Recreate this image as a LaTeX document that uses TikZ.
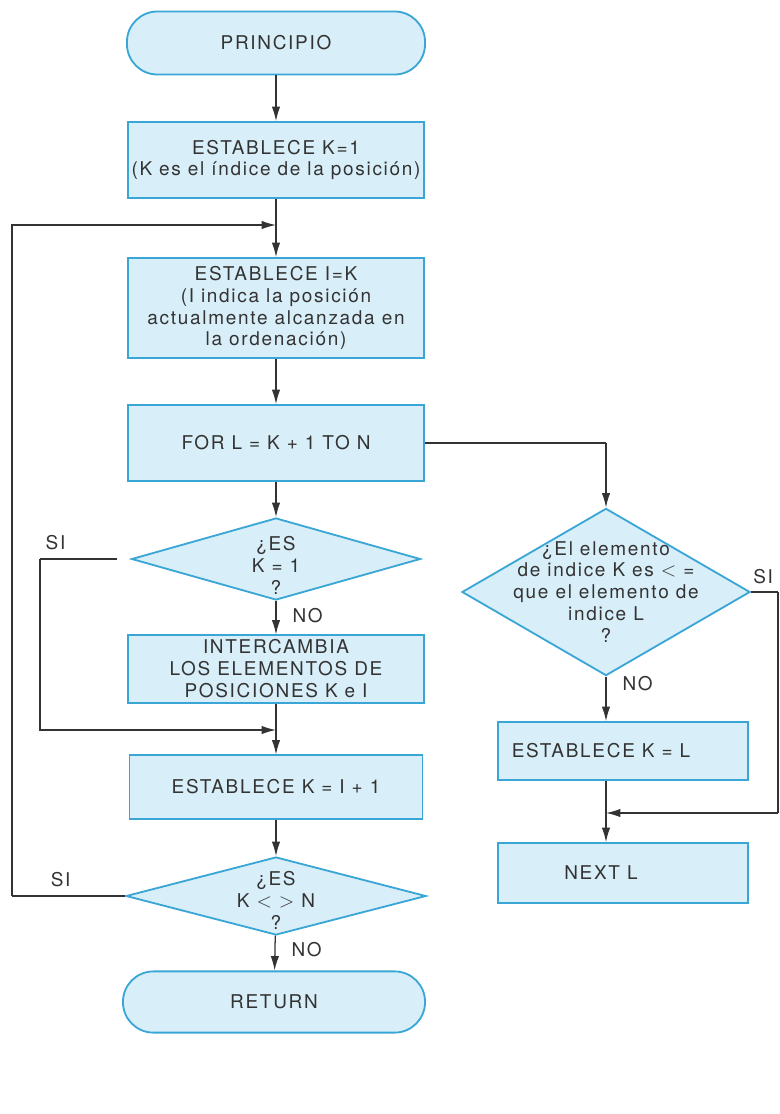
\documentclass[tikz,border=0pt]{standalone}
\usepackage{fontspec}
\setmainfont[LetterSpace=9]{TeX Gyre Heros}
\usetikzlibrary{shapes.geometric,arrows.meta}
\definecolor{boxblue}{HTML}{3AA6D6}
\definecolor{boxfill}{HTML}{D8EEF8}
\definecolor{ink}{HTML}{333333}
\begin{document}
\begin{tikzpicture}[x=0.025cm,y=-0.025cm,font=\fontsize{13.5}{15.6}\selectfont,text=ink]
\tikzstyle{proc}=[rectangle,draw=boxblue,fill=boxfill,line width=1.3pt,align=center,inner sep=0.5pt]
\tikzstyle{term}=[proc,rounded corners=7.6mm]
\tikzstyle{cond}=[diamond,draw=boxblue,fill=boxfill,line width=1.3pt,inner sep=0pt]
\tikzstyle{arr}=[draw=ink,line width=0.9pt,-{Latex[length=3.6mm,width=2.1mm]}]
\tikzstyle{line}=[draw=ink,line width=0.9pt]
\useasboundingbox (0,0) rectangle (780,1114);
\node[term,minimum width=7.45cm,minimum height=1.575cm] (start) at (276,43) {PRINCIPIO};
\node[proc,minimum width=7.4cm,minimum height=1.9cm] (setk) at (276,160) {ESTABLECE K=1\\(K es el índice de la posición)};
\node[proc,minimum width=7.4cm,minimum height=2.5cm] (seti) at (276,308) {ESTABLECE I=K\\(I indica la posición\\actualmente alcanzada en\\la ordenación)};
\node[proc,minimum width=7.4cm,minimum height=1.9cm] (forl) at (276,443) {FOR L = K + 1 TO N};
\node[cond,minimum width=7.22cm,minimum height=2.05cm,label={[align=center,yshift=-0.15cm]center:¿ES\\K = 1\\?}] (isone) at (276,559) {};
\node[proc,minimum width=7.38cm,minimum height=1.68cm] (swap) at (276,669) {INTERCAMBIA\\LOS ELEMENTOS DE\\POSICIONES K e I};
\node[proc,minimum width=7.32cm,minimum height=1.58cm] (inck) at (276,787) {ESTABLECE K = I + 1};
\node[cond,minimum width=7.5cm,minimum height=1.95cm,label={[align=center,yshift=-0.1cm]center:¿ES\\K $<$ $>$ N\\?}] (isn) at (276,896) {};
\node[term,minimum width=7.55cm,minimum height=1.53cm] (ret) at (274,1002) {RETURN};
\node[cond,minimum width=7.2cm,minimum height=4.18cm,label={[align=center]center:¿El elemento\\de indice K es $<$ =\\que el elemento de\\indice L\\?}] (less) at (606,592) {};
\node[proc,minimum width=6.25cm,minimum height=1.45cm] (setl) at (623,751) {\hspace*{-1.1cm}ESTABLECE K = L};
\node[proc,minimum width=6.25cm,minimum height=1.5cm] (next) at (623,873) {\hspace*{-1.1cm}NEXT L};
\coordinate (top) at (276,225);
\coordinate (mid) at (276,730);
\coordinate (low) at (606,813);
\coordinate (turn) at (606,443);
\draw[arr] (start) -- (setk);
\draw[arr] (setk) -- (seti);
\draw[arr] (seti) -- (forl);
\draw[arr] (forl) -- (isone);
\draw[arr] (isone) -- (swap) node[pos=0.45,right=8pt] {NO};
\draw[arr] (swap) -- (inck);
\draw[arr] (inck) -- (isn);
\draw[arr] (isn) -- (ret) node[pos=0.4,right=8pt] {NO};
\draw[line] ([xshift=-0.33cm]isone.west) -- (40,559) node[pos=0.8,above=3pt] {SI};
\draw[arr] (40,559) |- (top |- mid);
\draw[line] (isn.west) -- (12,896) node[pos=0.57,above=3pt] {SI};
\draw[arr] (12,896) |- (top);
\draw[line] (forl.east) -- (turn);
\draw[arr] (turn) -- (less.north);
\draw[arr] (less.south) -- (less.south |- setl.north) node[pos=0.15,right=8pt] {NO};
\draw[line] (less.east) -- (778,592) node[pos=0.45,above=2pt] {SI};
\draw[line] (778,592) -- (778,813);
\draw[arr] (778,813) -- (low);
\draw[arr] (low |- setl.south) -- (low |- next.north);
\end{tikzpicture}
\end{document}
